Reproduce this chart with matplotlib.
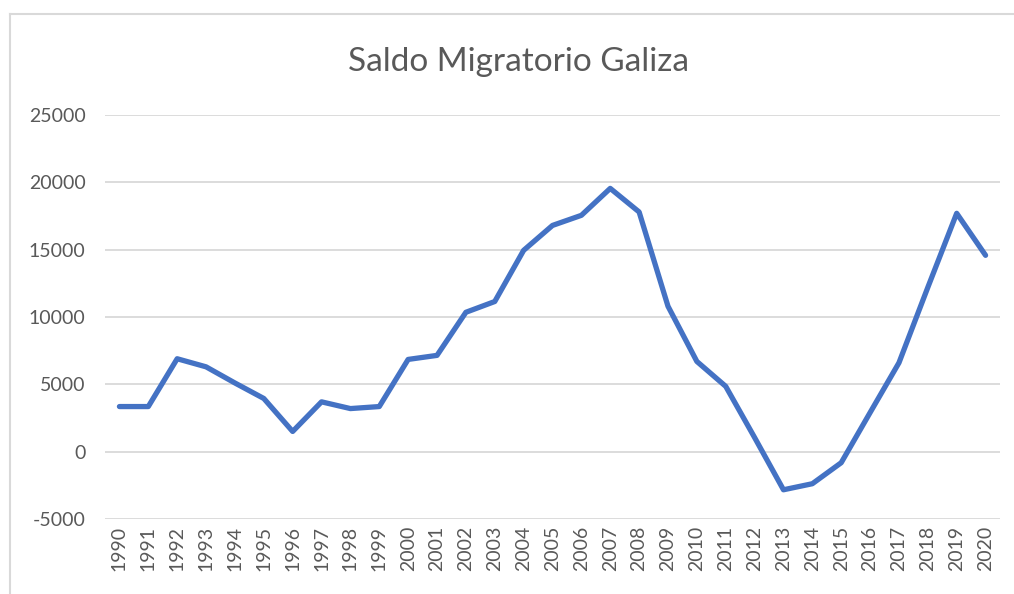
import matplotlib
matplotlib.use('Agg')
import matplotlib.pyplot as plt
from matplotlib.lines import Line2D

plt.rcParams['font.family'] = ['Lato', 'DejaVu Sans']

years = [str(y) for y in range(1990, 2021)]
saldo = [3350, 3350, 6900, 6300, 5100, 3950, 1500, 3700, 3200, 3350,
         6850, 7150, 10350, 11150, 14950, 16800, 17550, 19550, 17800, 10800,
         6700, 4850, 1050, -2830, -2380, -820, 2900, 6600, 12200, 17700,
         14580]
yticks = [-5000, 0, 5000, 10000, 15000, 20000, 25000]

fig = plt.figure(figsize=(10.14, 5.94), dpi=100)
W, H = 1014, 594
ax = fig.add_axes([105 / W, 1 - 519 / H, 895 / W, (519 - 115) / H])

# screenshot frame of the chart area
fig.add_artist(Line2D([10 / W, 10 / W], [0, 1 - 14 / H], color='#d9d9d9', lw=1.5))
fig.add_artist(Line2D([10 / W, 1], [1 - 14 / H, 1 - 14 / H], color='#d9d9d9', lw=1.5))

x = list(range(len(years)))
ax.plot(x, saldo, color='#4472C4', lw=3.8, solid_joinstyle='round', solid_capstyle='round', zorder=3)

ax.set_xlim(-0.5, len(years) - 0.5)
ax.set_ylim(-5000, 25000)
ax.set_yticks(yticks)
ax.set_yticklabels([str(v) for v in yticks])
ax.set_xticks(x)
ax.set_xticklabels(years, rotation=90)
ax.grid(axis='y', color='#d9d9d9', lw=1.3)
ax.set_axisbelow(True)
for s in ax.spines.values():
    s.set_visible(False)
ax.tick_params(axis='both', length=0, colors='#595959', labelsize=14)
ax.tick_params(axis='y', pad=14)
ax.tick_params(axis='x', pad=5)

fig.text(519 / W, 1 - 62 / H, 'Saldo Migratorio Galiza', ha='center', va='center',
         fontsize=24, color='#595959')

fig.savefig('out.png', dpi=100)
